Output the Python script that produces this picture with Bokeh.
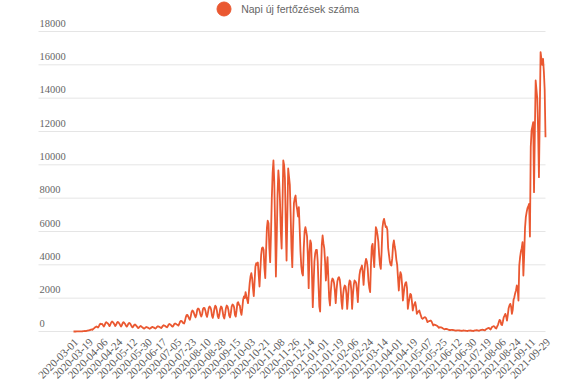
from math import pi
from bokeh.plotting import figure
from bokeh.models import (Range1d, ColumnDataSource, LabelSet, Legend, LegendItem)
from bokeh.embed import file_html
from bokeh.resources import INLINE

# ---------------- data (daily new infections) ----------------
series_name = "Napi új fertőzések száma"

cases_2020_mar_jun = [
    0, 0, 1, 1, 2, 3, 2,
    4, 5, 8, 12, 15, 20, 25,
    35, 25, 40, 55, 60, 75, 80,
    110, 120, 100, 150, 190, 240, 260,
    300, 280, 240, 320, 420, 470, 440,
    450, 380, 300, 380, 500, 560, 520,
    480, 400, 320, 420, 540, 600, 560,
    500, 420, 330, 400, 520, 580, 540,
    470, 380, 300, 380, 500, 560, 510,
    450, 350, 290, 360, 470, 520, 480,
    400, 310, 250, 300, 390, 420, 380,
    320, 260, 200, 240, 300, 330, 290,
    260, 210, 170, 200, 250, 270, 240,
    230, 190, 160, 190, 240, 280, 250,
    240, 200, 180, 220, 290, 320, 290,
    280, 230, 210, 260, 340, 380, 350,
    330, 280, 250, 310, 410, 450, 420,
]

cases_2020_jun_oct = [
    380, 320, 290, 350, 450, 480, 460,
    420, 400, 350, 450, 580, 640, 620,
    560, 500, 480, 620, 850, 980, 1000,
    900, 780, 700, 880, 1150, 1260, 1220,
    1100, 950, 850, 1000, 1300, 1380, 1350,
    1200, 1000, 900, 1050, 1350, 1420, 1400,
    1250, 1000, 880, 1100, 1400, 1500, 1450,
    1300, 950, 820, 1050, 1380, 1550, 1480,
    1250, 920, 800, 1000, 1350, 1500, 1450,
    1200, 900, 780, 1050, 1400, 1560, 1500,
    1300, 950, 850, 1100, 1500, 1620, 1580,
    1450, 1000, 900, 1250, 1700, 1760, 1600,
    1550, 1200, 1000, 1400, 1900, 2100, 2000,
    2360, 2100, 1900, 1700, 2300, 2900, 3300,
    3500, 3200, 2600, 2120, 3000, 3900, 4100,
    4000, 4140, 3400, 2700, 3700, 4600, 5000,
    5050, 4900, 3800, 3200, 4800, 6200, 6650,
]

cases_2020_oct_2021_feb = [
    6500, 5000, 4160, 5800, 8000, 9500, 10260,
    9000, 6500, 3300, 5500, 8200, 9660, 9000,
    7800, 6000, 4980, 7500, 10260, 10000, 9200,
    6500, 4260, 7000, 9780, 9300, 8800, 7000,
    5000, 3860, 6000, 7700, 8000, 8160, 7600,
    7300, 6900, 7460, 6200, 4800, 3900, 3500,
    3360, 5000, 6000, 6260, 6000, 5700, 4500,
    2600, 4800, 5460, 5280, 3500, 1460, 2800,
    4200, 4700, 4900, 4900, 4200, 2800, 1500,
    1200, 3500, 5200, 5760, 5300, 5000, 4200,
    3060, 3800, 4460, 3200, 2000, 1560, 2400,
    3000, 3180, 3100, 2900, 2400, 1700, 2500,
    3000, 3200, 3260, 3100, 2600, 1800, 1360,
    2200, 2600, 2760, 2700, 2300, 1360, 2000,
    2800, 3060, 3000, 2500, 1360, 2200, 2800,
    3060, 3000, 2900, 2400, 1760, 2800, 3400,
    3700, 3800, 3960, 3500, 2800, 3600, 4100,
]

cases_2021_feb_jun = [
    4360, 4200, 3800, 3000, 2600, 2360, 4000,
    5100, 5260, 4500, 3860, 5200, 6260, 6100,
    5800, 5400, 4600, 4000, 3760, 4800, 6200,
    6600, 6760, 6500, 6260, 6300, 6100, 5000,
    4600, 4200, 4000, 3960, 4400, 5200, 5460,
    5100, 4800, 4300, 4000, 3200, 2460, 3200,
    3560, 3400, 2800, 1860, 2300, 2700, 2900,
    2960, 2600, 1360, 1700, 2000, 2260, 2200,
    1800, 1260, 1500, 1650, 1760, 1500, 1060,
    1150, 1200, 1260, 1100, 950, 800, 760,
    800, 840, 860, 820, 700, 560, 600,
    620, 640, 660, 600, 480, 360, 420,
    400, 380, 360, 330, 280, 220, 260,
    250, 240, 220, 180, 150, 130, 160,
    150, 140, 120, 100, 90, 80, 100,
    95, 90, 85, 70, 60, 55, 70,
    70, 65, 60, 50, 45, 40, 55,
]

cases_2021_jun_sep = [
    60, 55, 50, 40, 35, 30, 50,
    55, 60, 55, 45, 35, 30, 55,
    65, 70, 75, 65, 50, 45, 75,
    90, 100, 110, 100, 80, 70, 120,
    150, 180, 200, 210, 160, 120, 220,
    280, 300, 320, 280, 200, 180, 300,
    400, 560, 700, 650, 420, 380, 600,
    850, 950, 1060, 900, 660, 1000, 1400,
    1560, 1660, 1500, 1060, 1300, 1900, 2060,
    2300, 2460, 2760, 2600, 1860, 3960, 4460,
    4800, 5000, 5360, 3360, 4600, 6200, 6860,
    7160, 7400, 7500, 7660, 5700, 11060, 12060,
    12300, 12560, 8360, 12000, 15060, 14500, 13960,
    12000, 9260, 13000, 16760, 16360, 16000, 16360,
    15600, 14500, 11660,
]

x_tick_labels = [
    "2020-03-01", "2020-03-19", "2020-04-06", "2020-04-24", "2020-05-12",
    "2020-05-30", "2020-06-17", "2020-07-05", "2020-07-23", "2020-08-10",
    "2020-08-28", "2020-09-15", "2020-10-03", "2020-10-21", "2020-11-08",
    "2020-11-26", "2020-12-14", "2021-01-01", "2021-01-19", "2021-02-06",
    "2021-02-24", "2021-03-14", "2021-04-01", "2021-04-19", "2021-05-07",
    "2021-05-25", "2021-06-12", "2021-06-30", "2021-07-19", "2021-08-06",
    "2021-08-24", "2021-09-11", "2021-09-29",
]
label_step = 18  # one category label every 18 days

y_tick_values = [0, 2000, 4000, 6000, 8000, 10000, 12000, 14000, 16000, 18000]
y_tick_labels = ["0", "2000", "4000", "6000", "8000", "10000", "12000", "14000", "16000", "18000"]

# ---------------- build ----------------
daily_cases = (cases_2020_mar_jun + cases_2020_jun_oct + cases_2020_oct_2021_feb
               + cases_2021_feb_jun + cases_2021_jun_sep)
day_index = list(range(len(daily_cases)))
tick_positions = [i * label_step for i in range(len(x_tick_labels))]

LINE_COLOR = "#ea5831"
TEXT_COLOR = "#666666"
XTEXT_COLOR = "#5a5a5a"
GRID_COLOR = "#e5e5e5"
FONT = "Liberation Sans"
FONT_SIZE = "10.5px"
XFONT_SIZE = "11px"

# layout (page pixels): figure fills 578x385; plot data area x 73..545, y 0 at 331,
# grid lines start at x 38; 60 cases per pixel vertically
W, H = 578, 385
last = day_index[-1]
px_per_day = 472.0 / last
data_left_px, grid_left_px, zero_px = 73, 38, 331
units_per_px = 18000.0 / 300.0
x_start = -data_left_px / px_per_day
x_end = (W - data_left_px) / px_per_day
y_start = -(H - zero_px) * units_per_px
y_end = zero_px * units_per_px
grid_x0 = -(data_left_px - grid_left_px) / px_per_day

p = figure(width=W, height=H, output_backend="svg", toolbar_location=None,
           x_range=Range1d(x_start, x_end), y_range=Range1d(y_start, y_end),
           x_axis_type=None, y_axis_type=None,
           min_border_left=0, min_border_right=0, min_border_top=0, min_border_bottom=0)
p.outline_line_color = None
p.background_fill_color = "white"
p.border_fill_color = "white"
p.xgrid.visible = False
p.ygrid.visible = False

# horizontal grid lines at the y ticks
gsrc = ColumnDataSource(dict(x0=[grid_x0] * len(y_tick_values), x1=[last] * len(y_tick_values),
                             y=y_tick_values))
p.segment(x0="x0", y0="y", x1="x1", y1="y", source=gsrc, line_color=GRID_COLOR, line_width=1)

# the series
p.line(day_index, daily_cases, line_color=LINE_COLOR, line_width=1.8, line_join="round")

# y tick labels: above their grid lines, left aligned
ysrc = ColumnDataSource(dict(x=[grid_x0] * len(y_tick_values), y=y_tick_values, text=y_tick_labels))
p.add_layout(LabelSet(x="x", y="y", text="text", source=ysrc, x_offset=1, y_offset=5,
                      text_baseline="alphabetic", text_align="left",
                      text_font=FONT, text_font_size=FONT_SIZE, text_color=TEXT_COLOR))

# x tick labels: rotated 45 degrees, ending at their tick
xsrc = ColumnDataSource(dict(x=tick_positions, y=[0] * len(tick_positions), text=x_tick_labels))
p.add_layout(LabelSet(x="x", y="y", text="text", source=xsrc, angle=pi / 4,
                      x_offset=3, y_offset=-9, text_align="right", text_baseline="middle",
                      text_font=FONT, text_font_size=XFONT_SIZE, text_color=XTEXT_COLOR))

# legend (circle marker + label) centred above the chart
r_leg = p.scatter(x=[float("nan")], y=[float("nan")], marker="circle", size=14,
                  fill_color=LINE_COLOR, line_color=LINE_COLOR)
legend_center_px = (223.7, 8.7)
glyph_box = 35
legend = Legend(items=[LegendItem(label=series_name, renderers=[r_leg])],
                location=(legend_center_px[0] - glyph_box / 2,
                          H - legend_center_px[1] - glyph_box / 2),
                orientation="horizontal",
                glyph_width=glyph_box, glyph_height=glyph_box, label_height=glyph_box,
                label_standoff=0, padding=0, margin=0, spacing=0, border_line_color=None,
                background_fill_alpha=0, label_text_font=FONT,
                label_text_font_size=FONT_SIZE, label_text_color=TEXT_COLOR)
p.add_layout(legend)

open("out.html", "w").write(file_html(p, INLINE))
